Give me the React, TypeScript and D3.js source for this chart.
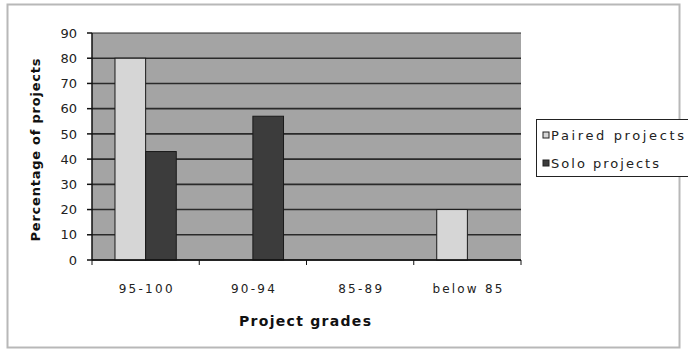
import React from "react";
import * as d3 from "d3";

const categories = ["95-100", "90-94", "85-89", "below 85"];
const seriesNames = ["Paired projects", "Solo projects"];
const pairedValues = [80, 0, 0, 20];
const soloValues = [43, 57, 0, 0];
const yTicks = [0, 10, 20, 30, 40, 50, 60, 70, 80, 90];

const seriesColors = ["#d6d6d6", "#3c3c3c"];

// rendered widths of the wide category and legend labels
const catLabelWidths = [54, 44, 44, 70];
const legendLabelWidths = [133, 108];

export default function App() {
  const W = 688;
  const H = 351;
  const plot = { left: 92, right: 521, top: 33, bottom: 260 };

  const x = d3
    .scaleBand<string>()
    .domain(categories)
    .range([plot.left, plot.right])
    .paddingInner(0)
    .paddingOuter(0);
  const inner = d3
    .scaleBand<string>()
    .domain(seriesNames)
    .range([0, x.bandwidth()])
    .paddingInner(0)
    .paddingOuter(0.75);
  const y = d3.scaleLinear().domain([0, 90]).range([plot.bottom, plot.top]);

  const seriesValues = [pairedValues, soloValues];
  const font = "'DejaVu Sans', Verdana, sans-serif";

  return (
    <svg
      width={W}
      height={H}
      style={{ position: "absolute", left: 0, top: 0 }}
      fontFamily={font}
    >
      <rect x={0} y={0} width={W} height={H} fill="#fff" />
      {/* outer frame */}
      <rect x={7.5} y={4.5} width={672} height={343} fill="none" stroke="#b8b8b8" strokeWidth={2} />

      {/* plot background */}
      <rect
        x={plot.left}
        y={plot.top}
        width={plot.right - plot.left}
        height={plot.bottom - plot.top}
        fill="#a4a4a4"
      />
      {/* gridlines */}
      {yTicks.map((t) => (
        <line
          key={t}
          x1={plot.left}
          x2={plot.right}
          y1={y(t)}
          y2={y(t)}
          stroke="#2a2a2a"
          strokeWidth={t === 90 ? 1 : 1.6}
        />
      ))}

      {/* bars */}
      {seriesNames.map((s, si) =>
        categories.map((c, ci) => {
          const v = seriesValues[si][ci];
          if (!v) return null;
          const bx = (x(c) ?? 0) + (inner(s) ?? 0);
          return (
            <rect
              key={s + c}
              x={bx}
              y={y(v)}
              width={inner.bandwidth()}
              height={y(0) - y(v)}
              fill={seriesColors[si]}
              stroke="#1a1a1a"
              strokeWidth={1}
            />
          );
        })
      )}

      {/* y axis */}
      <line x1={plot.left} x2={plot.left} y1={plot.top} y2={plot.bottom} stroke="#111" strokeWidth={1.5} />
      {yTicks.map((t) => (
        <g key={"yt" + t}>
          <line x1={plot.left - 5} x2={plot.left} y1={y(t)} y2={y(t)} stroke="#111" strokeWidth={1.5} />
          <text
            x={plot.left - 15}
            y={y(t)}
            dy="0.36em"
            textAnchor="end"
            fontSize={13}
            fill="#222"
          >
            {t}
          </text>
        </g>
      ))}

      {/* x axis */}
      <line x1={plot.left} x2={plot.right} y1={plot.bottom} y2={plot.bottom} stroke="#111" strokeWidth={1.5} />
      {[...categories.map((c) => x(c) ?? 0), plot.right].map((px, i) => (
        <line key={"xt" + i} x1={px} x2={px} y1={plot.bottom} y2={plot.bottom + 5} stroke="#111" strokeWidth={1} />
      ))}
      {categories.map((c, i) => (
        <text
          key={"xl" + c}
          x={(x(c) ?? 0) + x.bandwidth() / 2}
          y={293}
          textAnchor="middle"
          fontSize={12}
          fill="#222"
          textLength={catLabelWidths[i]}
          lengthAdjust="spacing"
        >
          {c}
        </text>
      ))}

      {/* axis titles */}
      <text
        x={305}
        y={326}
        textAnchor="middle"
        fontSize={14}
        fontWeight="bold"
        fill="#111"
        textLength={132}
        lengthAdjust="spacing"
      >
        Project grades
      </text>
      <text
        transform={`translate(40, 150) rotate(-90)`}
        textAnchor="middle"
        fontSize={13}
        fontWeight="bold"
        fill="#111"
        textLength={183}
        lengthAdjust="spacing"
      >
        Percentage of projects
      </text>

      {/* legend */}
      <rect x={536.5} y={119.5} width={152} height={57} fill="#fff" stroke="#222" strokeWidth={1} />
      {seriesNames.map((s, i) => (
        <g key={"lg" + s} transform={`translate(543, ${135 + i * 28})`}>
          <rect x={0} y={-3} width={6} height={6} fill={seriesColors[i]} stroke="#222" strokeWidth={1} />
          <text
            x={8}
            y={0}
            dy="0.36em"
            fontSize={13}
            fill="#222"
            textLength={legendLabelWidths[i]}
            lengthAdjust="spacing"
          >
            {s}
          </text>
        </g>
      ))}
    </svg>
  );
}
